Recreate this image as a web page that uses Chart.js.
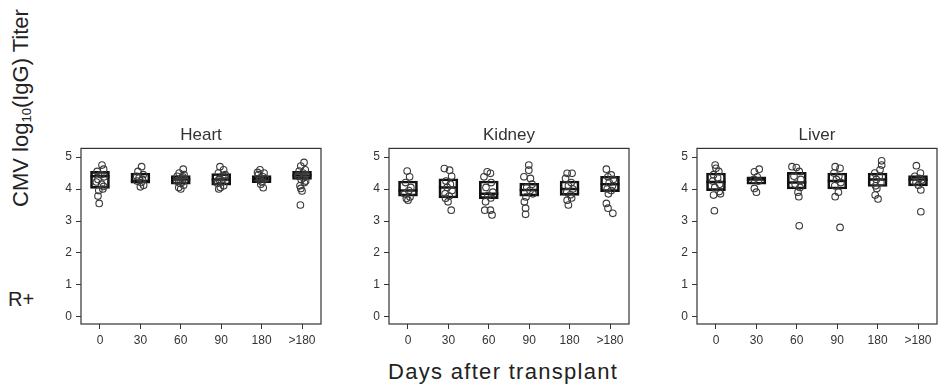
<!DOCTYPE html>
<html>
<head>
<meta charset="utf-8">
<script src="https://cdn.jsdelivr.net/npm/chart.js@4.4.1/dist/chart.umd.min.js"></script>
<style>
  body { margin: 0; background: #fff; width: 950px; height: 387px; overflow: hidden; position: relative; font-family: "Liberation Sans", Arial, sans-serif; color: #222; }
  canvas { position: absolute; top: 115px; }
  .ytitle { position: absolute; left: -109px; top: 94px; width: 260px; height: 28px; line-height: 28px; text-align: center; font-size: 22px; transform: rotate(-90deg); white-space: nowrap; }
  .ytitle sub { font-size: 13px; vertical-align: -3px; }
  .rplus { position: absolute; left: 8px; top: 288px; font-size: 20px; }
  .xtitle { position: absolute; left: 388px; top: 359px; font-size: 22px; letter-spacing: 1.3px; white-space: nowrap; }
</style>
</head>
<body>
<div class="ytitle">CMV log<sub>10</sub>(IgG) Titer</div>
<div class="rplus">R+</div>
<div class="xtitle">Days after transplant</div>
<canvas id="heartChart" width="277" height="234" style="left:56px"></canvas>
<canvas id="kidneyChart" width="277" height="234" style="left:364px"></canvas>
<canvas id="liverChart" width="277" height="234" style="left:672px"></canvas>
<script>
const days = ["0", "30", "60", "90", "180", ">180"];
const yTicks = [0, 1, 2, 3, 4, 5];

// box limits per day: first quartile, median, third quartile
const heartQ1 = [4.02, 4.18, 4.15, 4.12, 4.2, 4.3];
const heartMedian = [4.4, 4.25, 4.3, 4.3, 4.32, 4.42];
const heartQ3 = [4.55, 4.5, 4.42, 4.48, 4.42, 4.55];

const kidneyQ1 = [3.78, 3.72, 3.7, 3.78, 3.8, 3.92];
const kidneyMedian = [3.95, 4.05, 3.85, 3.97, 4.0, 4.15];
const kidneyQ3 = [4.25, 4.32, 4.25, 4.18, 4.25, 4.4];

const liverQ1 = [3.95, 4.15, 4.0, 4.0, 4.08, 4.1];
const liverMedian = [4.22, 4.3, 4.2, 4.25, 4.3, 4.3];
const liverQ3 = [4.5, 4.38, 4.52, 4.5, 4.5, 4.42];

// individual titers per day, and their sideways jitter
const heartValues = [
  [4.75, 4.62, 4.55, 4.45, 4.38, 4.3, 4.22, 4.15, 4.08, 4.0, 3.95, 3.78, 3.55],
  [4.7, 4.55, 4.45, 4.4, 4.35, 4.3, 4.25, 4.2, 4.12, 4.07],
  [4.62, 4.5, 4.45, 4.4, 4.38, 4.35, 4.3, 4.28, 4.25, 4.22, 4.18, 4.12, 4.05, 4.0],
  [4.7, 4.6, 4.5, 4.45, 4.42, 4.35, 4.3, 4.25, 4.22, 4.18, 4.1, 4.05, 4.0],
  [4.6, 4.52, 4.5, 4.45, 4.38, 4.35, 4.32, 4.28, 4.22, 4.15, 4.04],
  [4.83, 4.72, 4.6, 4.56, 4.5, 4.45, 4.42, 4.4, 4.35, 4.3, 4.25, 4.2, 4.1, 4.02, 3.94, 3.5],
];
const heartJitter = [
  [0.05, 0.09, -0.07, 0.02, 0.1, -0.05, -0.09, 0.04, 0.09, 0.07, -0.03, -0.05, -0.02],
  [0.03, -0.06, 0.07, -0.09, -0.03, 0.05, -0.08, 0.02, 0.08, 0.0],
  [0.06, -0.04, 0.08, -0.09, 0.05, 0.02, 0.1, -0.06, -0.1, 0.04, -0.02, 0.07, -0.05, 0.0],
  [-0.03, 0.06, -0.07, 0.1, 0.04, 0.09, -0.05, -0.1, 0.01, -0.09, 0.06, -0.02, -0.06],
  [-0.04, -0.1, 0.06, -0.08, 0.03, -0.03, 0.09, -0.05, 0.01, -0.02, 0.04],
  [0.05, -0.03, 0.08, -0.07, 0.02, 0.1, -0.1, -0.09, 0.04, -0.02, 0.09, 0.06, -0.05, -0.03, 0.0, -0.04],
];

const kidneyValues = [
  [4.56, 4.38, 4.2, 4.05, 3.95, 3.85, 3.75, 3.7, 3.65],
  [4.64, 4.59, 4.4, 4.25, 4.15, 4.05, 3.95, 3.85, 3.78, 3.71, 3.6, 3.34],
  [4.54, 4.49, 4.38, 4.2, 4.05, 3.9, 3.8, 3.72, 3.6, 3.34, 3.34, 3.19],
  [4.75, 4.59, 4.38, 4.33, 4.15, 4.05, 3.95, 3.85, 3.75, 3.6, 3.4, 3.21],
  [4.49, 4.49, 4.33, 4.2, 4.1, 4.0, 3.9, 3.82, 3.72, 3.65, 3.5],
  [4.62, 4.44, 4.38, 4.3, 4.2, 4.1, 4.0, 3.95, 3.85, 3.55, 3.4, 3.24],
];
const kidneyJitter = [
  [-0.02, 0.04, -0.06, 0.07, 0.02, -0.08, 0.05, -0.04, 0.0],
  [-0.1, 0.03, 0.08, -0.06, 0.05, -0.03, 0.09, -0.08, 0.02, -0.07, -0.01, 0.07],
  [-0.04, 0.04, -0.12, 0.06, -0.07, 0.1, -0.02, 0.05, -0.08, -0.1, 0.04, 0.08],
  [-0.01, -0.01, -0.13, 0.03, 0.07, -0.06, 0.02, 0.09, -0.08, -0.12, -0.09, -0.09],
  [-0.06, 0.06, -0.1, 0.04, -0.03, 0.08, -0.07, 0.02, 0.05, -0.06, -0.03],
  [-0.09, 0.03, -0.05, 0.08, -0.02, 0.06, -0.07, 0.03, -0.04, -0.09, -0.05, 0.07],
];

const liverValues = [
  [4.75, 4.65, 4.55, 4.45, 4.35, 4.25, 4.15, 4.05, 3.92, 3.85, 3.81, 3.32],
  [4.62, 4.54, 4.38, 4.3, 4.25, 4.02, 3.9],
  [4.7, 4.67, 4.55, 4.4, 4.3, 4.15, 4.05, 3.9, 3.76, 2.85],
  [4.7, 4.65, 4.5, 4.4, 4.3, 4.2, 4.1, 3.9, 3.76, 2.8],
  [4.88, 4.75, 4.6, 4.5, 4.4, 4.3, 4.2, 4.1, 4.02, 3.81, 3.69],
  [4.73, 4.5, 4.4, 4.33, 4.28, 4.2, 4.12, 3.97, 3.29],
];
const liverJitter = [
  [-0.02, 0.0, 0.07, -0.06, 0.04, -0.08, 0.09, -0.03, 0.08, 0.11, -0.06, -0.04],
  [0.07, -0.05, 0.02, -0.06, 0.05, -0.05, 0.0],
  [-0.12, -0.01, 0.06, -0.07, 0.1, -0.04, 0.08, 0.03, 0.05, 0.06],
  [-0.05, 0.07, -0.08, 0.04, -0.02, 0.09, -0.06, 0.03, -0.05, 0.07],
  [0.1, 0.1, 0.06, -0.07, 0.04, -0.03, 0.08, -0.05, -0.02, -0.06, 0.01],
  [-0.04, 0.06, -0.08, 0.03, 0.09, -0.05, 0.01, 0.07, 0.07],
];

Chart.defaults.font.family = "'Liberation Sans', Arial, sans-serif";
Chart.defaults.color = "#333";

const frame = {
  id: "frame",
  beforeDatasetsDraw(chart) {
    const a = chart.chartArea;
    const ctx = chart.ctx;
    ctx.save();
    ctx.strokeStyle = "#333";
    ctx.lineWidth = 1.2;
    ctx.strokeRect(a.left, a.top, a.right - a.left, a.bottom - a.top);
    ctx.restore();
  },
};

function createPanel(id, title, q1, median, q3, values, jitter) {
  const points = [];
  values.forEach((list, i) => {
    list.forEach((v, j) => {
      points.push({ x: i + jitter[i][j], y: v });
    });
  });
  new Chart(document.getElementById(id), {
    type: "scatter",
    data: {
      datasets: [
        {
          type: "bar",
          data: days.map((d, i) => ({ x: i, y: [q1[i], q3[i]] })),
          backgroundColor: "rgba(0,0,0,0)",
          borderColor: "#111",
          borderWidth: 2,
          borderSkipped: false,
          barThickness: 19,
          order: 3,
        },
        {
          data: days.map((d, i) => ({ x: i, y: median[i] })),
          pointStyle: "line",
          pointRadius: 9.5,
          borderColor: "#111",
          borderWidth: 2.5,
          order: 2,
        },
        {
          data: points,
          pointStyle: "circle",
          pointRadius: 3.3,
          backgroundColor: "rgba(0,0,0,0)",
          borderColor: "#3a3a3a",
          borderWidth: 1.1,
          order: 1,
        },
      ],
    },
    options: {
      responsive: false,
      animation: false,
      layout: { padding: { left: 0, right: 1, top: 0, bottom: 0 } },
      plugins: {
        legend: { display: false },
        tooltip: { enabled: false },
        title: {
          display: true,
          text: title,
          fullSize: false,
          color: "#333",
          font: { size: 17, weight: "normal" },
          padding: { top: 10, bottom: 3 },
        },
      },
      scales: {
        x: {
          type: "linear",
          min: -0.47,
          max: 5.47,
          offset: false,
          afterBuildTicks: (s) => { s.ticks = days.map((d, i) => ({ value: i })); },
          afterFit: (s) => { s.height = 25; },
          ticks: { callback: (v) => days[v], font: { size: 12 }, padding: 4, maxRotation: 0, autoSkip: false },
          grid: { drawOnChartArea: false, drawTicks: true, tickLength: 5, color: "#333", offset: false },
          border: { display: false },
        },
        y: {
          min: -0.22,
          max: 5.27,
          afterBuildTicks: (s) => { s.ticks = yTicks.map((v) => ({ value: v })); },
          afterFit: (s) => { s.width = 25; },
          ticks: { font: { size: 12 }, padding: 4 },
          grid: { drawOnChartArea: false, drawTicks: true, tickLength: 5, color: "#333" },
          border: { display: false },
        },
      },
    },
    plugins: [frame],
  });
}

createPanel("heartChart", "Heart", heartQ1, heartMedian, heartQ3, heartValues, heartJitter);
createPanel("kidneyChart", "Kidney", kidneyQ1, kidneyMedian, kidneyQ3, kidneyValues, kidneyJitter);
createPanel("liverChart", "Liver", liverQ1, liverMedian, liverQ3, liverValues, liverJitter);
</script>
</body>
</html>
